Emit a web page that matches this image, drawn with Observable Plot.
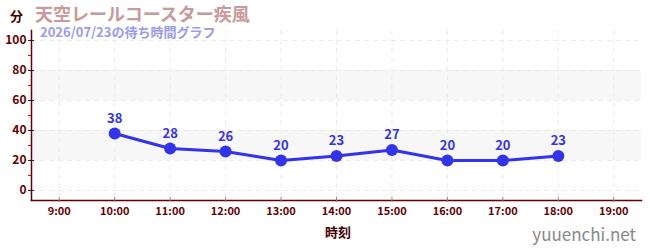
<!DOCTYPE html>
<html><head><meta charset="utf-8">
<script src="https://cdn.jsdelivr.net/npm/d3@7"></script>
<script src="https://cdn.jsdelivr.net/npm/@observablehq/plot@0.6"></script>
<style>
body{margin:0;background:#fff;font-family:"Noto Sans CJK JP","Noto Sans",sans-serif;}
#wrap{position:relative;width:650px;height:250px;}
.t{position:absolute;white-space:nowrap;font-weight:bold;line-height:1;}
</style></head>
<body><div id="wrap"></div>
<script>
const title = "天空レールコースター疾風";
const subtitle = "2026/07/23の待ち時間グラフ";
const yUnit = "分";
const xLabel = "時刻";
const credit = "yuuenchi.net";
const hours = [10, 11, 12, 13, 14, 15, 16, 17, 18];
const waits = [38, 28, 26, 20, 23, 27, 20, 20, 23];
const xTicks = [9, 10, 11, 12, 13, 14, 15, 16, 17, 18, 19];
const yTicks = [0, 20, 40, 60, 80, 100];
const yMinor = [10, 30, 50, 70, 90];
const bands = [[20, 40], [60, 80]];

const data = hours.map((h, i) => ({h, v: waits[i]}));
const axisColor = "#660000";
const lineColor = "#3333ee";
const X0 = 8.5, X1 = 19.5, Y0 = -6.7, Y1 = 106.7;

const chart = Plot.plot({
  width: 650, height: 250,
  marginLeft: 31, marginRight: 9, marginTop: 30, marginBottom: 50,
  style: {fontFamily: "'Noto Sans CJK JP','Noto Sans',sans-serif", background: "transparent"},
  x: {domain: [X0, X1], axis: null},
  y: {domain: [Y0, Y1], axis: null},
  marks: [
    Plot.rect(bands, {x1: () => X0, x2: () => X1, y1: d => d[0], y2: d => d[1], fill: "#f7f7f7"}),
    Plot.gridY(yTicks, {stroke: "#ebebeb", strokeOpacity: 1, strokeDasharray: "5,4"}),
    Plot.gridX(xTicks, {stroke: "#ebebeb", strokeOpacity: 1, strokeDasharray: "5,4"}),
    Plot.frame({anchor: "left", stroke: axisColor, strokeWidth: 1.5}),
    Plot.frame({anchor: "bottom", stroke: axisColor, strokeWidth: 1.5}),
    Plot.axisY(yMinor, {anchor: "left", tickSize: 3, stroke: "#dd0000", text: null, label: null}),
    Plot.axisY(yTicks, {anchor: "left", tickSize: 6, dx: 3, tickPadding: 2, stroke: "#222", fill: axisColor, fontSize: 12, fontWeight: "bold", label: null}),
    Plot.axisX(xTicks, {anchor: "bottom", tickSize: 5, dy: -3, stroke: "#888", fill: axisColor, fontSize: 11, fontWeight: "bold", tickPadding: 5, tickFormat: d => d + ":00", label: null}),
    Plot.line(data, {x: "h", y: "v", stroke: lineColor, strokeWidth: 3}),
    Plot.dot(data, {x: "h", y: "v", fill: lineColor, r: 6}),
    Plot.text(data, {x: "h", y: "v", text: d => String(d.v), dy: -15, fill: lineColor, fontSize: 13, fontWeight: "bold"})
  ]
});
const wrap = document.getElementById("wrap");
chart.style.position = "absolute"; chart.style.left = "0"; chart.style.top = "0";
wrap.appendChild(chart);
function addText(s, css) {
  const d = document.createElement("div"); d.className = "t"; d.textContent = s;
  Object.assign(d.style, css); wrap.appendChild(d);
}
addText(yUnit, {left: "10px", top: "9px", fontSize: "13px", color: "#440000"});
addText(title, {left: "35px", top: "4px", fontSize: "18px", color: "#c99a9a"});
addText(subtitle, {left: "40px", top: "25px", fontSize: "13px", color: "#9a9af2"});
addText(xLabel, {left: "325px", top: "225px", fontSize: "13px", color: "#440000"});
addText(credit, {right: "14px", top: "225px", fontSize: "17px", color: "#888", fontWeight: "normal"});
</script></body></html>
